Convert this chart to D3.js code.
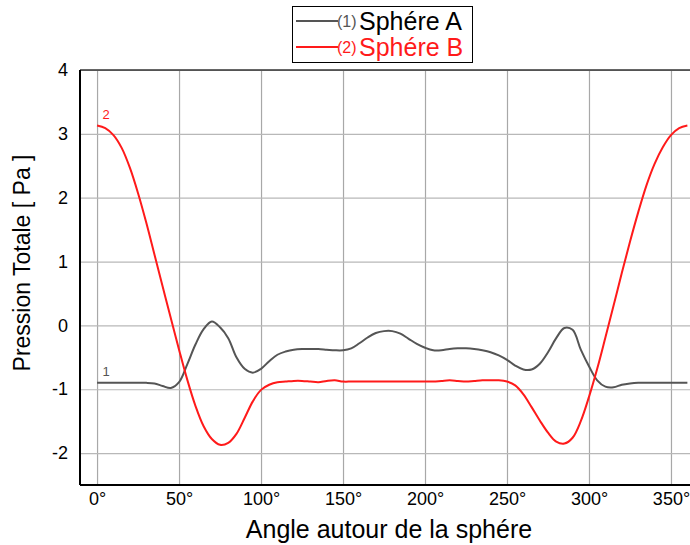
<!DOCTYPE html>
<html>
<head>
<meta charset="utf-8">
<script src="https://cdn.jsdelivr.net/npm/d3@7"></script>
<style>
    body { margin: 0; background: #fff; }
    text { font-family: "Liberation Sans", Arial, sans-serif; }
</style>
</head>
<body>
<div id="chart"></div>
<script>
// angle around the sphere (degrees)
const angles = [0, 5, 10, 15, 20, 25, 30, 35, 40, 45, 50, 55, 60, 65, 70, 75, 80, 85, 90, 95,
    100, 105, 110, 115, 120, 125, 130, 135, 140, 145, 150, 155, 160, 165, 170, 175, 180, 185, 190, 195,
    200, 205, 210, 215, 220, 225, 230, 235, 240, 245, 250, 255, 260, 265, 270, 275, 280, 285, 290, 295,
    300, 305, 310, 315, 320, 325, 330, 335, 340, 345, 350, 355, 360];

// (1) Sphére A
const sphereA = [-0.90, -0.90, -0.90, -0.90, -0.90, -0.90, -0.90, -0.91, -0.95, -0.98,
    -0.89, -0.61, -0.30, -0.06, 0.06, -0.03, -0.20, -0.50, -0.68, -0.74,
    -0.68, -0.56, -0.46, -0.41, -0.38, -0.37, -0.37, -0.37, -0.38, -0.39,
    -0.39, -0.36, -0.28, -0.19, -0.12, -0.09, -0.09, -0.13, -0.21, -0.29,
    -0.35, -0.39, -0.39, -0.37, -0.36, -0.36, -0.37, -0.39, -0.42, -0.47,
    -0.54, -0.63, -0.69, -0.69, -0.60, -0.42, -0.20, -0.04, -0.07, -0.38,
    -0.64, -0.86, -0.96, -0.97, -0.93, -0.91, -0.90, -0.90, -0.90, -0.90,
    -0.90, -0.90, -0.90];

// (2) Sphére B
const sphereB = [3.13, 3.09, 2.98, 2.78, 2.47, 2.07, 1.61, 1.11, 0.61, 0.11,
    -0.38, -0.85, -1.26, -1.58, -1.78, -1.87, -1.84, -1.70, -1.45, -1.19,
    -1.01, -0.93, -0.89, -0.88, -0.87, -0.87, -0.88, -0.89, -0.87, -0.86,
    -0.88, -0.88, -0.88, -0.88, -0.88, -0.88, -0.88, -0.88, -0.88, -0.88,
    -0.88, -0.88, -0.87, -0.86, -0.87, -0.88, -0.87, -0.86, -0.86, -0.86,
    -0.88, -0.94, -1.08, -1.28, -1.49, -1.68, -1.82, -1.85, -1.76, -1.50,
    -1.12, -0.68, -0.19, 0.31, 0.82, 1.31, 1.77, 2.19, 2.53, 2.79,
    2.98, 3.09, 3.13];

const xTicks = [0, 50, 100, 150, 200, 250, 300, 350];
const yTicks = [-2, -1, 0, 1, 2, 3, 4];

const seriesNames = ['Sphére A', 'Sphére B'];
const seriesTags = ['1', '2'];
const seriesColors = ['#555555', '#ff1a1a'];

const width = 690;
const height = 545;
const margin = { top: 70, right: 0, bottom: 60, left: 80 };

const svg = d3.select('#chart')
    .append('svg')
    .attr('width', width)
    .attr('height', height);

const x = d3.scaleLinear()
    .domain([-10.4, 361.6])
    .range([margin.left, width - margin.right]);

const y = d3.scaleLinear()
    .domain([-2.5, 4])
    .range([height - margin.bottom, margin.top]);

// vertical grid + x tick labels
const xAxis = svg.append('g')
    .attr('transform', `translate(0,${height - margin.bottom})`)
    .call(d3.axisBottom(x)
        .tickValues(xTicks)
        .tickSize(-(height - margin.bottom - margin.top))
        .tickPadding(6)
        .tickFormat(d => d + '°'));
xAxis.select('.domain').remove();
xAxis.selectAll('.tick line').attr('stroke', '#a8a8a8').attr('stroke-width', 1.2);
xAxis.selectAll('.tick text')
    .attr('fill', '#000')
    .attr('font-size', '18px')
    .attr('dy', '0.75em');

// horizontal grid + y tick labels
const yAxis = svg.append('g')
    .attr('transform', `translate(${margin.left},0)`)
    .call(d3.axisLeft(y)
        .tickValues(yTicks)
        .tickSize(-(width - margin.left - margin.right))
        .tickPadding(12)
        .tickFormat(d => d < 0 ? '-' + Math.abs(d) : d));
yAxis.select('.domain').remove();
yAxis.selectAll('.tick line').attr('stroke', '#b8b8b8').attr('stroke-width', 1.2);
yAxis.selectAll('.tick text')
    .attr('fill', '#000')
    .attr('font-size', '18px');

// frame: top, left, bottom
svg.append('line')
    .attr('x1', margin.left).attr('x2', width - margin.right)
    .attr('y1', y(4)).attr('y2', y(4))
    .attr('stroke', '#333').attr('stroke-width', 1.5);
svg.append('line')
    .attr('x1', margin.left).attr('x2', margin.left)
    .attr('y1', y(4)).attr('y2', y(-2.5))
    .attr('stroke', '#000').attr('stroke-width', 2);
svg.append('line')
    .attr('x1', margin.left).attr('x2', width - margin.right)
    .attr('y1', y(-2.5)).attr('y2', y(-2.5))
    .attr('stroke', '#000').attr('stroke-width', 2);

// curves
const line = d3.line()
    .x((d, i) => x(angles[i]))
    .y(d => y(d))
    .curve(d3.curveCatmullRom.alpha(0.5));

[sphereA, sphereB].forEach((values, k) => {
    svg.append('path')
        .datum(values)
        .attr('fill', 'none')
        .attr('stroke', seriesColors[k])
        .attr('stroke-width', 2)
        .attr('d', line);

    // small series number next to the first point
    svg.append('text')
        .attr('x', x(angles[0]) + 9)
        .attr('y', y(values[0]) - 7)
        .attr('text-anchor', 'middle')
        .attr('fill', seriesColors[k])
        .attr('font-size', '13px')
        .text(seriesTags[k]);
});

// legend
const legend = svg.append('g');
legend.append('rect')
    .attr('x', 292.5).attr('y', 6.5)
    .attr('width', 180).attr('height', 56)
    .attr('fill', '#fff')
    .attr('stroke', '#000');

seriesNames.forEach((name, k) => {
    const ly = 21 + k * 26;
    legend.append('line')
        .attr('x1', 296).attr('x2', 338)
        .attr('y1', ly).attr('y2', ly)
        .attr('stroke', seriesColors[k])
        .attr('stroke-width', 2);
    legend.append('text')
        .attr('x', 337)
        .attr('y', ly + 6)
        .attr('fill', k === 0 ? '#555' : seriesColors[k])
        .attr('font-size', '16px')
        .text(`(${seriesTags[k]})`);
    legend.append('text')
        .attr('x', 359)
        .attr('y', ly + 9)
        .attr('fill', k === 0 ? '#000' : seriesColors[k])
        .attr('font-size', '25px')
        .text(name);
});

// axis titles
svg.append('text')
    .attr('x', 389)
    .attr('y', 538)
    .attr('text-anchor', 'middle')
    .attr('fill', '#000')
    .attr('font-size', '25px')
    .text('Angle autour de la sphére');

svg.append('text')
    .attr('transform', 'translate(30,263) rotate(-90)')
    .attr('text-anchor', 'middle')
    .attr('fill', '#000')
    .attr('font-size', '23px')
    .text('Pression Totale [ Pa ]');
</script>
</body>
</html>
